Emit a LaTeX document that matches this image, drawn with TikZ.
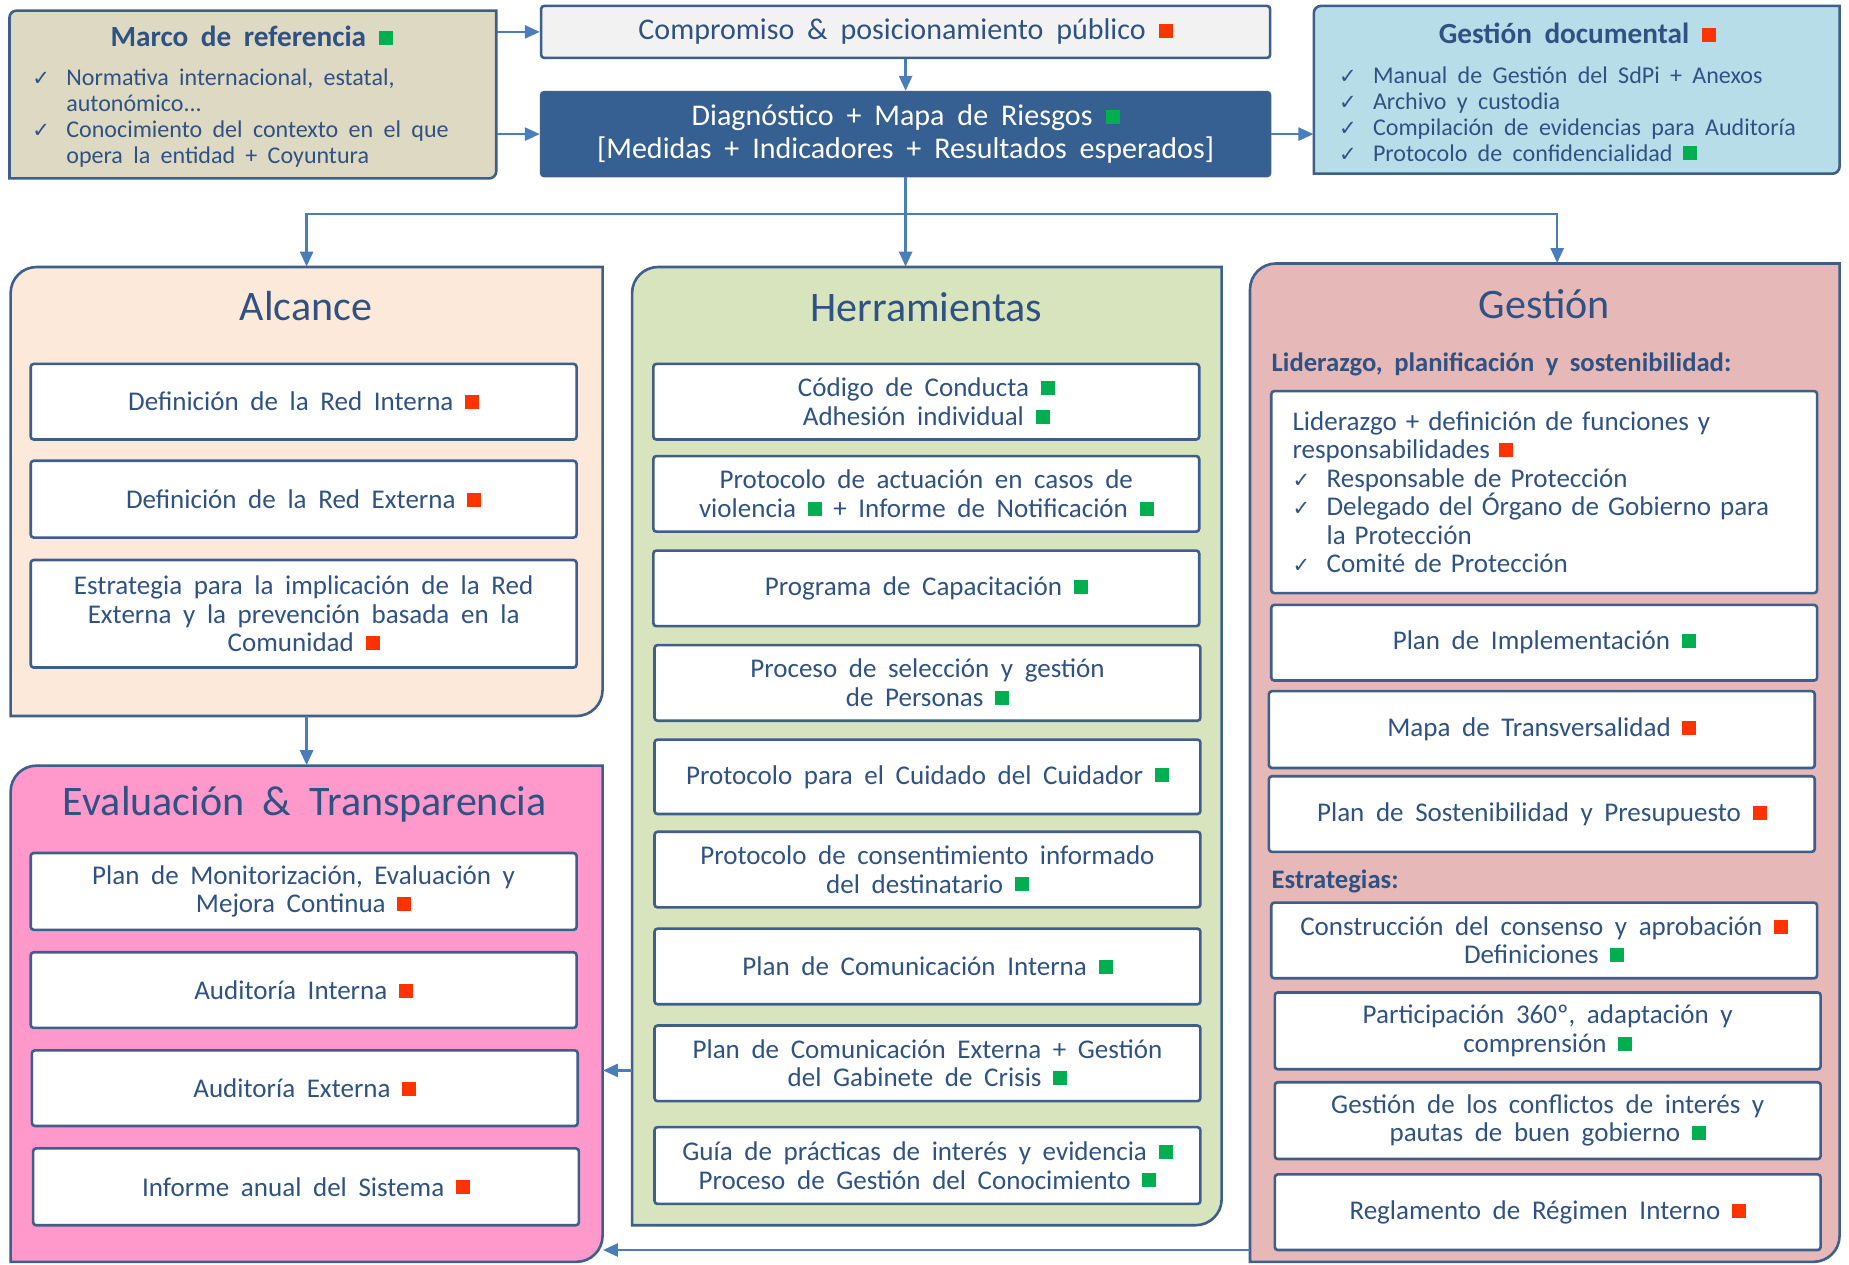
\documentclass[tikz,border=0pt]{standalone}
\usepackage{fontspec}
\setmainfont{Carlito}[WordSpace=1.9]
\newfontfamily\dejavu{DejaVu Sans}
\usetikzlibrary{arrows.meta,fit,calc}
\definecolor{bcol}{HTML}{3E5F8A}
\definecolor{acol}{HTML}{4A7EBB}
\definecolor{tcol}{HTML}{2F5283}
\definecolor{marcoF}{HTML}{DDD9C3}
\definecolor{compF}{HTML}{F2F2F2}
\definecolor{diagF}{HTML}{376092}
\definecolor{gdocF}{HTML}{B7DDE8}
\definecolor{alcF}{HTML}{FDE9D9}
\definecolor{herrF}{HTML}{D7E4BD}
\definecolor{gesF}{HTML}{E6B9B8}
\definecolor{evalF}{HTML}{FF99CC}
\definecolor{sqr}{HTML}{FF3300}
\definecolor{sqg}{HTML}{00B050}
\newcommand\sqR{\textcolor{sqr}{\raisebox{0.8pt}{\rule{7pt}{7pt}}}}
\newcommand\sqG{\textcolor{sqg}{\raisebox{0.8pt}{\rule{7pt}{7pt}}}}
\newcommand\chk{\makebox[17pt][l]{{\dejavu\fontsize{10.5}{10}\selectfont ✓}}}
\newcommand\ind{\hspace*{17pt}}
% box with centre text: name x1 y1 x2 y2 style text
\newcommand\B[7]{\node[#6, minimum width={(#4-#2)*0.59pt}, minimum height={(#5-#3)*0.59pt}] (#1) at ({(#2+#4)/2},{(#3+#5)/2}) {#7};}
% big box with round diagonal corners: name x1 y1 x2 y2 r fill
\newcommand\DB[7]{%
 \path[bigline, fill=#7] (#2,#3+#6) arc[start angle=180,end angle=270,radius=#6] -- (#4,#3) -- (#4,#5-#6) arc[start angle=0,end angle=90,radius=#6] -- (#2,#5) -- cycle;
 \node[inner sep=0pt, minimum width={(#4-#2)*0.59pt}, minimum height={(#5-#3)*0.59pt}] (#1) at ({(#2+#4)/2},{(#3+#5)/2}) {};}
\begin{document}
\begin{tikzpicture}[x=0.59pt,y=-0.59pt,
  body/.style={font=\fontsize{13.5}{14.2}\selectfont, text=tcol, align=center},
  ibox/.style={draw=bcol, line width=1.3pt, fill=white, rounded corners=1.5pt, body, inner sep=0pt},
  bigline/.style={draw=bcol, line width=1.3pt},
  arr/.style={draw=acol, line width=1.3pt, -{Triangle[length=7.5pt,width=6.5pt]}},
  bigT/.style={font=\fontsize{21}{24}\selectfont, text=tcol},
  smallT/.style={font=\bfseries\fontsize{14.6}{17}\selectfont, text=tcol},
  subT/.style={font=\bfseries\fontsize{13.3}{14}\selectfont, text=tcol, anchor=west, inner sep=0pt},
  list/.style={font=\fontsize{12}{13}\selectfont, text=tcol, align=left, inner sep=0pt, anchor=north west}]
\useasboundingbox[fill=white] (0,0) rectangle (1565,1070);

% ---------- top row ----------
\DB{marco}{8}{9}{420}{151}{6}{marcoF}
\node[smallT] (marcoT) at (213,31) {Marco de referencia \sqG};
\node[list] (marcoL) at (27,58) {\chk Normativa internacional, estatal,\\\ind autonómico...\\\chk Conocimiento del contexto en el que\\\ind opera la entidad + Coyuntura};

\B{comp}{458}{5}{1075}{49}{ibox, fill=compF, font=\fontsize{15}{16.5}\selectfont}{Compromiso \& posicionamiento público \sqR}
\B{diag}{458}{78}{1075}{149}{ibox, fill=diagF, text=white, font=\fontsize{15}{16.5}\selectfont}{Diagnóstico + Mapa de Riesgos \sqG\\{}[Medidas + Indicadores + Resultados esperados]}

\DB{gdoc}{1112}{5}{1557}{147}{6}{gdocF}
\node[smallT] (gdocT) at (1335,28) {Gestión documental \sqR};
\node[list] (gdocL) at (1133,56) {\chk Manual de Gestión del SdPi + Anexos\\\chk Archivo y custodia\\\chk Compilación de evidencias para Auditoría\\\chk Protocolo de confidencialidad \sqG};

% ---------- Alcance ----------
\DB{alc}{9}{226}{510}{606}{22}{alcF}
\node[bigT] (alcT) at (259,259) {Alcance};
\B{a1}{26}{308}{488}{372}{ibox}{Definición de la Red Interna \sqR}
\B{a2}{26}{390}{488}{455}{ibox}{Definición de la Red Externa \sqR}
\B{a3}{26}{474}{488}{565}{ibox}{Estrategia para la implicación de la Red\\Externa y la prevención basada en la\\Comunidad \sqR}

% ---------- Evaluación ----------
\DB{eval}{9}{648}{510}{1068}{22}{evalF}
\node[bigT] (evalT) at (258,681) {Evaluación \& Transparencia};
\B{e1}{26}{722}{488}{787}{ibox}{Plan de Monitorización, Evaluación y\\Mejora Continua \sqR}
\B{e2}{26}{806}{488}{870}{ibox}{Auditoría Interna \sqR}
\B{e3}{27}{889}{489}{953}{ibox}{Auditoría Externa \sqR}
\B{e4}{28}{972}{490}{1037}{ibox}{Informe anual del Sistema \sqR}

% ---------- Herramientas ----------
\DB{herr}{535}{226}{1034}{1037}{22}{herrF}
\node[bigT] (herrT) at (784,260) {Herramientas};
\B{h1}{553}{308}{1015}{372}{ibox}{Código de Conducta \sqG\\Adhesión individual \sqG}
\B{h2}{553}{386}{1015}{450}{ibox}{Protocolo de actuación en casos de\\violencia \sqG{} + Informe de Notificación \sqG}
\B{h3}{553}{466}{1015}{530}{ibox}{Programa de Capacitación \sqG}
\B{h4}{554}{546}{1016}{610}{ibox}{Proceso de selección y gestión\\de Personas \sqG}
\B{h5}{554}{626}{1016}{689}{ibox}{Protocolo para el Cuidado del Cuidador \sqG}
\B{h6}{554}{704}{1016}{768}{ibox}{Protocolo de consentimiento informado\\del destinatario \sqG}
\B{h7}{554}{786}{1016}{850}{ibox}{Plan de Comunicación Interna \sqG}
\B{h8}{554}{868}{1016}{932}{ibox}{Plan de Comunicación Externa + Gestión\\del Gabinete de Crisis \sqG}
\B{h9}{554}{954}{1016}{1019}{ibox}{Guía de prácticas de interés y evidencia \sqG\\Proceso de Gestión del Conocimiento \sqG}

% ---------- Gestión ----------
\DB{ges}{1058}{223}{1557}{1068}{22}{gesF}
\node[bigT] (gesT) at (1307,257) {Gestión};
\node[subT] (gesS1) at (1076,308) {Liderazgo, planificación y sostenibilidad:};
\node[ibox, align=left, text width={(462-36)*0.59pt}, inner xsep={18*0.59pt}, minimum height={171*0.59pt}] (g1) at (1307,416.5)
 {Liderazgo + definición de funciones y\\responsabilidades \sqR\\\chk Responsable de Protección\\\chk Delegado del Órgano de Gobierno para\\\ind la Protección\\\chk Comité de Protección};
\B{g2}{1076}{512}{1538}{576}{ibox}{Plan de Implementación \sqG}
\B{g3}{1074}{585}{1536}{650}{ibox}{Mapa de Transversalidad \sqR}
\B{g4}{1074}{657}{1536}{721}{ibox}{Plan de Sostenibilidad y Presupuesto \sqR}
\node[subT] (gesS2) at (1076,746) {Estrategias:};
\B{g5}{1076}{764}{1538}{828}{ibox}{Construcción del consenso y aprobación \sqR\\Definiciones \sqG}
\B{g6}{1079}{840}{1541}{905}{ibox}{Participación 360º, adaptación y\\comprensión \sqG}
\B{g7}{1079}{916}{1541}{981}{ibox}{Gestión de los conflictos de interés y\\pautas de buen gobierno \sqG}
\B{g8}{1079}{994}{1541}{1058}{ibox}{Reglamento de Régimen Interno \sqR}

% ---------- connectors ----------
\draw[arr] (marco.east |- comp.west) -- (comp.west);
\draw[arr] (marco.east |- diag.west) -- (diag.west);
\draw[arr] (comp.south) -- (diag.north);
\draw[arr] (diag.east) -- (diag.east -| gdoc.west);
\coordinate (ybus) at (0,181);
\coordinate (bus) at (diag.south |- ybus);
\draw[arr] (diag.south) -- (diag.south |- herr.north);
\draw[arr] (bus) -| (alc.north);
\coordinate (gesin) at ($(ges.north west)!0.521!(ges.north east)$);
\draw[arr] (bus) -| (gesin);
\draw[arr] (alc.south) -- (eval.north);
\coordinate (y906) at (0,906);
\draw[arr] (herr.west |- y906) -- (eval.east |- y906);
\coordinate (y1058) at (0,1058);
\draw[arr] (ges.west |- y1058) -- (eval.east |- y1058);
\end{tikzpicture}
\end{document}
